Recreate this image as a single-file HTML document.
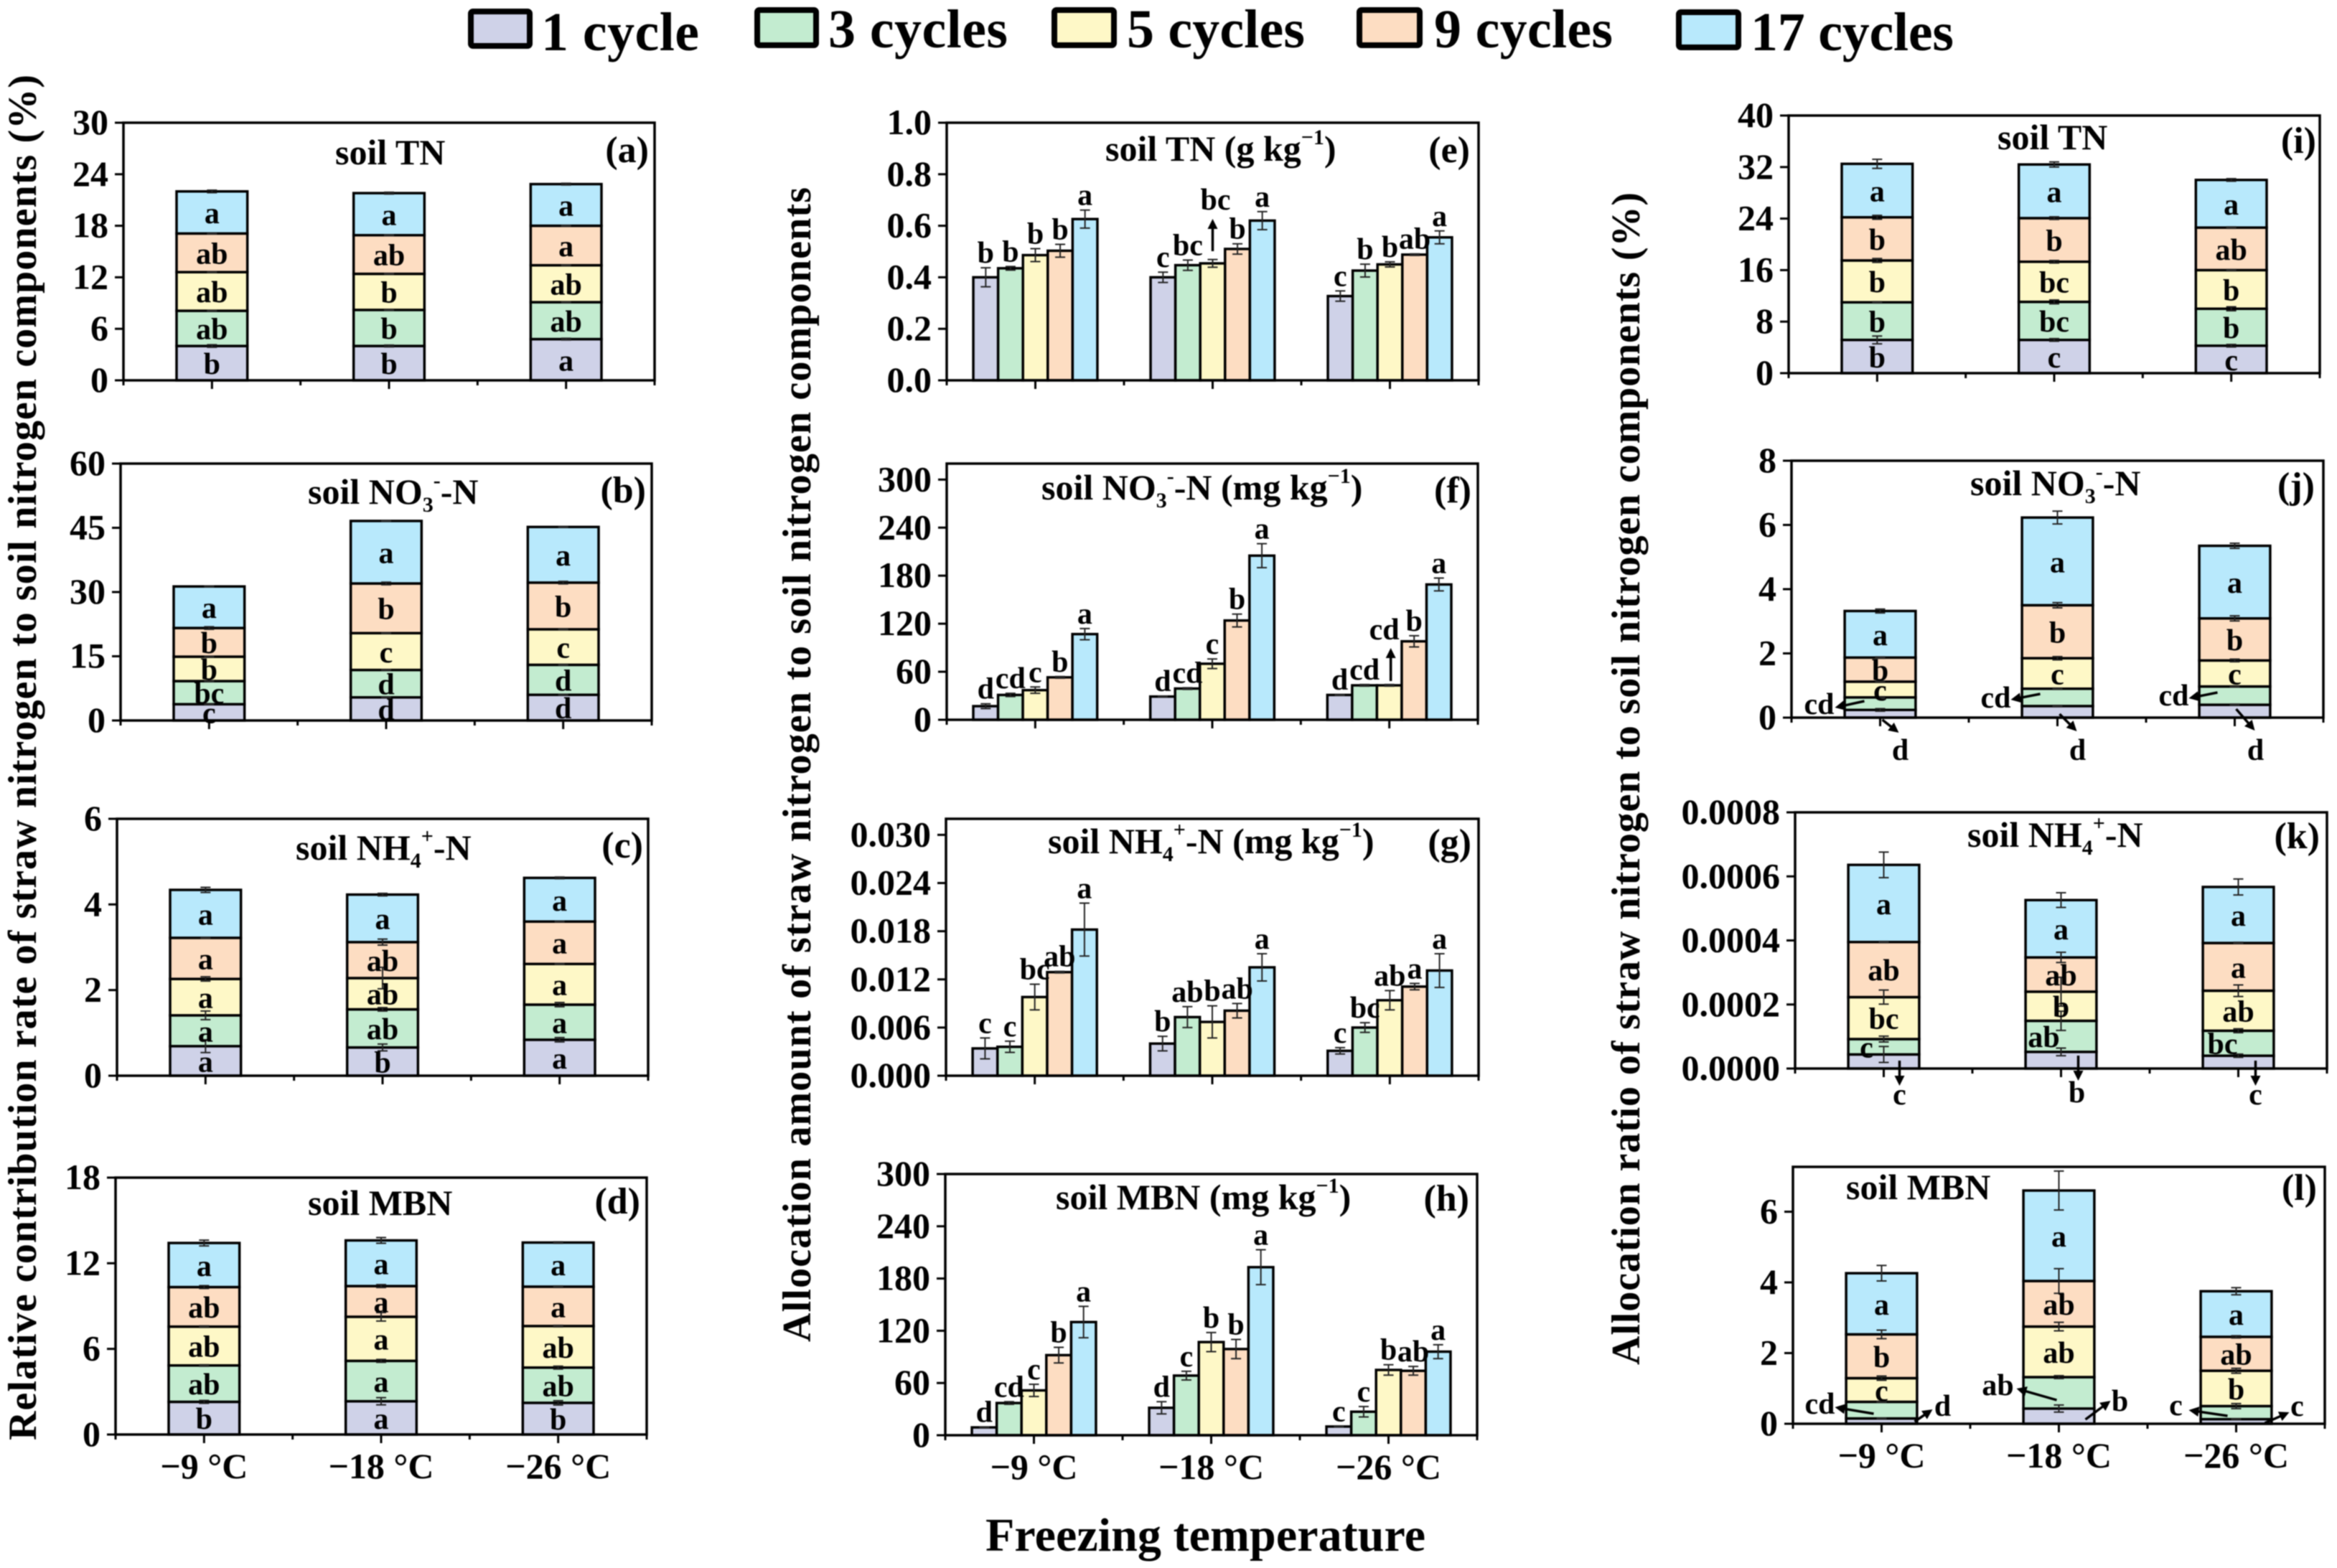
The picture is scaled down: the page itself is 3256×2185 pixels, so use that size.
<!DOCTYPE html>
<html lang="en">
<head>
<meta charset="utf-8">
<title>Straw nitrogen allocation under freeze-thaw cycles</title>
<style>
html,body{margin:0;padding:0;background:#fff;}
svg{display:block;font-family:"Liberation Serif",serif;font-weight:bold;fill:#000;filter:blur(0.7px);}
</style>
</head>
<body>
<svg id="figure" xmlns="http://www.w3.org/2000/svg" width="3256" height="2185" viewBox="0 0 3256 2185">
<rect x="0" y="0" width="3256" height="2185" fill="#fff"/>
<g>
<g><rect x="656" y="16" width="82" height="48" rx="3" fill="#CFD2E8" stroke="#000" stroke-width="8"/><text x="754" y="70" font-size="76" textLength="220">1 cycle</text></g>
<g><rect x="1055" y="14" width="82" height="49" rx="3" fill="#C3ECD0" stroke="#000" stroke-width="8"/><text x="1154" y="66" font-size="76" textLength="250">3 cycles</text></g>
<g><rect x="1469" y="14" width="83" height="49" rx="3" fill="#FEF8C7" stroke="#000" stroke-width="8"/><text x="1570" y="66" font-size="76" textLength="248">5 cycles</text></g>
<g><rect x="1894" y="14" width="84" height="49" rx="3" fill="#FDDDC2" stroke="#000" stroke-width="8"/><text x="1998" y="66" font-size="76" textLength="249">9 cycles</text></g>
<g><rect x="2339" y="17" width="83" height="49" rx="3" fill="#B8E9FC" stroke="#000" stroke-width="8"/><text x="2439" y="70" font-size="76" textLength="283">17 cycles</text></g>
</g>
<text transform="translate(50,2007) rotate(-90)" font-size="56" textLength="1903">Relative contribution rate of straw nitrogen to soil nitrogen components (%)</text>
<text transform="translate(1129,1870) rotate(-90)" font-size="56" textLength="1609">Allocation amount of straw nitrogen to soil nitrogen components</text>
<text transform="translate(2284,1902) rotate(-90)" font-size="56" textLength="1634">Allocation ratio of straw nitrogen to soil nitrogen components (%)</text>
<text x="1373" y="2161" font-size="66" textLength="613">Freezing temperature</text>
<g id="charts"></g>
</svg>
<script>
const categories = ['\u22129 \u00B0C', '\u221218 \u00B0C', '\u221226 \u00B0C'];
const seriesNames = ['1-cycle', '3-cycles', '5-cycles', '9-cycles', '17-cycles'];
const seriesColors = ['#CFD2E8', '#C3ECD0', '#FEF8C7', '#FDDDC2', '#B8E9FC'];

const ticksA = ['0', '6', '12', '18', '24', '30'];
const valuesA = [[4.0,4.0,4.8],[4.1,4.2,4.3],[4.5,4.2,4.3],[4.5,4.5,4.6],[4.9,4.9,4.85]];
const errorsA = [[.15,.1,.1],[.05,.05,.05],[.05,.05,.05],[.05,.05,.05],[.15,.1,.1]];
const lettersA = [['b','b','a'],['ab','b','ab'],['ab','b','ab'],['ab','ab','a'],['a','a','a']];

const ticksB = ['0', '15', '30', '45', '60'];
const valuesB = [[3.8,5.4,6.0],[5.4,6.4,7.0],[5.7,8.6,8.3],[6.7,11.6,10.9],[9.7,14.6,13.0]];
const errorsB = [[.1,.1,.1],[.1,.1,.1],[.1,.1,.1],[.3,.3,.3],[.1,.1,.1]];
const lettersB = [['c','d','d'],['bc','d','d'],['b','c','c'],['b','b','b'],['a','a','a']];

const ticksC = ['0', '2', '4', '6'];
const valuesC = [[.69,.66,.84],[.72,.89,.82],[.85,.73,.95],[.96,.84,.99],[1.12,1.11,1.02]];
const errorsC = [[.15,.08,.05],[.1,.04,.05],[.05,.25,.01],[.01,.07,.01],[.06,.03,.02]];
const lettersC = [['a','b','a'],['a','ab','a'],['a','ab','a'],['a','ab','a'],['a','a','a']];

const ticksD = ['0', '6', '12', '18'];
const valuesD = [[2.29,2.33,2.22],[2.55,2.83,2.47],[2.72,3.09,2.91],[2.77,2.15,2.76],[3.09,3.2,3.09]];
const errorsD = [[.1,.25,.15],[.05,.1,.1],[.05,.3,.05],[.1,.1,.05],[.2,.2,.05]];
const lettersD = [['b','a','b'],['ab','a','ab'],['ab','a','ab'],['ab','a','a'],['a','a','a']];

const ticksE = ['0.0', '0.2', '0.4', '0.6', '0.8', '1.0'];
const valuesE = [[.40,.40,.327],[.435,.447,.426],[.486,.454,.45],[.503,.51,.488],[.626,.62,.555]];
const errorsE = [[.037,.02,.02],[.007,.02,.025],[.025,.015,.01],[.025,.02,.003],[.035,.035,.025]];
const lettersE = [['b','c','c'],['b','bc','b'],['b','','b'],['b','b','ab'],['a','a','a']];

const ticksF = ['0', '60', '120', '180', '240', '300'];
const valuesF = [[17,29,31],[31,39,43],[37,70,43],[53,124,98],[107,205,169]];
const errorsF = [[3,.5,.5],[2,1,1],[4,6,1],[1,8,7],[7,15,8]];
const lettersF = [['d','d','d'],['cd','cd','cd'],['c','c',''],['b','b','b'],['a','a','a']];

const ticksG = ['0.000', '0.006', '0.012', '0.018', '0.024', '0.030'];
const valuesG = [[.0034,.004,.0031],[.0036,.0073,.006],[.0098,.0067,.0094],[.0129,.0081,.0111],[.0182,.0135,.0131]];
const errorsG = [[.0013,.0009,.0004],[.0007,.0013,.0006],[.0016,.002,.0012],[.0001,.0009,.0004],[.0033,.0017,.0021]];
const lettersG = [['c','b','c'],['c','ab','bc'],['bc','b','ab'],['ab','ab','a'],['a','a','a']];

const ticksH = ['0', '60', '120', '180', '240', '300'];
const valuesH = [[9,31.5,10],[37,68.5,27],[51.5,107,75],[92,99,74],[130,193,96]];
const errorsH = [[.5,7,.5],[1.5,5,6],[7,11,6],[9,11,5],[18,20,8]];
const lettersH = [['d','d','c'],['cd','c','c'],['c','b','b'],['b','b','ab'],['a','a','a']];

const ticksI = ['0', '8', '16', '24', '32', '40'];
const valuesI = [[5.16,5.16,4.26],[5.84,5.91,5.74],[6.5,6.23,6.0],[6.7,6.77,6.6],[8.3,8.33,7.4]];
const errorsI = [[.6,.2,.2],[.1,.3,.3],[.3,.2,.1],[.3,.2,.1],[.7,.4,.2]];
const lettersI = [['b','c','c'],['b','bc','b'],['b','bc','b'],['b','b','ab'],['a','a','a']];

const ticksJ = ['0', '2', '4', '6', '8'];
const valuesJ = [[.24,.36,.4],[.39,.54,.57],[.49,.95,.81],[.75,1.65,1.31],[1.45,2.73,2.26]];
const errorsJ = [[.04,.02,.02],[.02,.02,.02],[.02,.05,.04],[.02,.08,.08],[.06,.2,.08]];
const lettersJ = [['','',''],['','',''],['c','c','c'],['b','b','b'],['a','a','a']];

const ticksK = ['0.0000', '0.0002', '0.0004', '0.0006', '0.0008'];
const valuesK = [[.000044,.000052,.00004],[.000048,.000097,.000078],[.000131,.000091,.000125],[.000172,.000107,.000149],[.000241,.000179,.000175]];
const errorsK = [[.000025,.000012,.000005],[.000009,.00003,.000006],[.000022,.000045,.000018],[.000002,.000016,.000002],[.00004,.000023,.000025]];
const lettersK = [['','',''],['c','ab','bc'],['bc','b','ab'],['ab','ab','a'],['a','a','a']];

const ticksL = ['0', '2', '4', '6'];
const valuesL = [[.15,.43,.13],[.47,.89,.37],[.67,1.43,1.0],[1.24,1.29,.96],[1.73,2.56,1.29]];
const errorsL = [[.01,.1,.01],[.01,.04,.07],[.06,.12,.07],[.12,.35,.03],[.22,.55,.1]];
const lettersL = [['','',''],['','',''],['c','ab','b'],['b','ab','ab'],['a','a','a']];

const SVGNS = 'http://www.w3.org/2000/svg';
const root = document.getElementById('charts');

function make(parent, tag, attrs, text) {
  const el = document.createElementNS(SVGNS, tag);
  for (const k in attrs) el.setAttribute(k, attrs[k]);
  if (text !== undefined) el.textContent = text;
  parent.appendChild(el);
  return el;
}

function drawTitle(g, p) {
  const t = make(g, 'text', {x: p.titleX, y: p.titleY, 'font-size': 50});
  
  
  let shift = 0;
  p.title.forEach(function (part) {
    const kind = part[1];
    const target = kind === 'sub' ? 11 : kind === 'sup' ? -23 : 0;
    const attrs = {dy: target - shift};
    if (kind) attrs['font-size'] = 30;
    make(t, 'tspan', attrs, part[0]);
    shift = target;
  });
}

function drawPanel(p) {
  const g = make(root, 'g', {});
  
  
  const band = (p.x1 - p.x0) / categories.length;
  p.band = band;
  const xc = function (i) { return p.x0 + (i + 0.5) * band; };
  const y = function (v) { return p.y1 - (v / p.ymax) * (p.y1 - p.y0); };
  p.xc = xc;

  p.ticks.forEach(function (label) {
    const ty = y(parseFloat(label));
    const tick = make(g, 'line', {x1: p.x0 - 12, x2: p.x0, y1: ty, y2: ty, stroke: '#000', 'stroke-width': 3});
    
    
    const tl = make(g, 'text', {x: p.x0 - 21, y: ty + 16, 'font-size': 50, 'text-anchor': 'end'}, label);
    
    
  });

  for (let i = 0; i <= categories.length; i++) {
    const mx = p.x0 + i * band;
    const minor = make(g, 'line', {x1: mx, x2: mx, y1: p.y1, y2: p.y1 + 7, stroke: '#000', 'stroke-width': 3});
    
    
  }
  categories.forEach(function (c, i) {
    const major = make(g, 'line', {x1: xc(i), x2: xc(i), y1: p.y1, y2: p.y1 + 12, stroke: '#000', 'stroke-width': 3});
    
    
    if (p.showX) {
      const xl = make(g, 'text', {x: xc(i), y: p.y1 + 61, 'font-size': 50, 'text-anchor': 'middle'}, c);
      
      
    }
  });

  const errs = [];
  const labels = [];
  categories.forEach(function (c, i) {
    let sum = 0;
    seriesNames.forEach(function (name, s) {
      const v = p.values[s][i];
      const e = p.errors[s][i];
      let rx, rw, top, bottom;
      if (p.kind === 'stack') {
        rw = band * 0.4;
        rx = xc(i) - rw / 2;
        bottom = y(sum);
        sum += v;
        top = y(sum);
        errs.push({x: xc(i), hi: y(sum + e), lo: y(sum - e)});
        if (p.letters[s][i]) {
          const nudge = (p.nudges && p.nudges[s + ',' + i]) || 0;
          labels.push({x: xc(i) + nudge, y: (top + bottom) / 2 + 15, text: p.letters[s][i]});
        }
      } else {
        rw = band * 0.14;
        rx = xc(i) - 2.5 * rw + s * rw;
        bottom = y(0);
        top = y(v);
        errs.push({x: rx + rw / 2, hi: y(v + e), lo: y(v - e)});
        if (p.letters[s][i]) {
          labels.push({x: rx + rw / 2, y: y(v + e) - 7, text: p.letters[s][i]});
        }
      }
      const bar = make(g, 'rect', {x: rx, y: top, width: rw, height: bottom - top, fill: seriesColors[s], stroke: '#000', 'stroke-width': 3.5});
      
      
    });
  });

  errs.forEach(function (e) {
    const d = 'M' + e.x + ' ' + e.hi + 'V' + e.lo + 'M' + (e.x - 7) + ' ' + e.hi + 'h14M' + (e.x - 7) + ' ' + e.lo + 'h14';
    const eb = make(g, 'path', {d: d, fill: 'none', stroke: '#222', 'stroke-width': 2});
    
    
  });
  labels.forEach(function (l) {
    const sig = make(g, 'text', {x: l.x, y: l.y, 'font-size': 42, 'text-anchor': 'middle'}, l.text);
    
    
  });

  const frame = make(g, 'rect', {x: p.x0, y: p.y0, width: p.x1 - p.x0, height: p.y1 - p.y0, fill: 'none', stroke: '#000', 'stroke-width': 3.5});
  
  

  drawTitle(g, p);
  const tag = make(g, 'text', {x: p.tagX, y: p.tagY, 'font-size': 52, 'text-anchor': 'end'}, '(' + p.id + ')');
  
  
}

function callout(p, group, ax, ay, bx, by, text, tx, ty) {
  const cx = p.xc(group);
  const x1 = cx + ax, y1 = p.y1 + ay, x2 = cx + bx, y2 = p.y1 + by;
  const len = Math.hypot(x2 - x1, y2 - y1);
  const ux = (x2 - x1) / len, uy = (y2 - y1) / len;
  const line = make(root, 'line', {x1: x1, y1: y1, x2: x2 - ux * 8, y2: y2 - uy * 8, stroke: '#000', 'stroke-width': 3.5});
  
  
  const pts = [[x2, y2], [x2 - ux * 14 - uy * 7, y2 - uy * 14 + ux * 7], [x2 - ux * 14 + uy * 7, y2 - uy * 14 - ux * 7]];
  const head = make(root, 'polygon', {points: pts.map(function (q) { return q.join(','); }).join(' '), fill: '#000'});
  
  
  const label = make(root, 'text', {x: cx + tx, y: p.y1 + ty, 'font-size': 42, 'text-anchor': 'middle'}, text);
  
  
}

const NO3 = [['NO'], ['3', 'sub'], ['-', 'sup'], ['-N']];
const NH4 = [['NH'], ['4', 'sub'], ['+', 'sup'], ['-N']];
const unitMg = [[' (mg kg'], ['\u22121', 'sup'], [')']];
const panels = {
  a: {id:'a', kind:'stack', x0:172, x1:912, y0:171, y1:530, ymax:30, ticks:ticksA, values:valuesA, errors:errorsA, letters:lettersA, title:[['soil TN']], titleX:467, titleY:229, tagX:904, tagY:226},
  b: {id:'b', kind:'stack', x0:168, x1:908, y0:646, y1:1004, ymax:60, ticks:ticksB, values:valuesB, errors:errorsB, letters:lettersB, title:[['soil ']].concat(NO3), titleX:429, titleY:702, tagX:900, tagY:700},
  c: {id:'c', kind:'stack', x0:163, x1:903, y0:1141, y1:1499, ymax:6, ticks:ticksC, values:valuesC, errors:errorsC, letters:lettersC, title:[['soil ']].concat(NH4), titleX:412, titleY:1198, tagX:896, tagY:1195},
  d: {id:'d', kind:'stack', x0:161, x1:901, y0:1641, y1:1999, ymax:18, ticks:ticksD, values:valuesD, errors:errorsD, letters:lettersD, title:[['soil MBN']], titleX:429, titleY:1693, tagX:892, tagY:1691, showX:true},
  e: {id:'e', kind:'group', x0:1319, x1:2060, y0:171, y1:530, ymax:1, ticks:ticksE, values:valuesE, errors:errorsE, letters:lettersE, title:[['soil TN (g kg'], ['\u22121', 'sup'], [')']], titleX:1540, titleY:224, tagX:2048, tagY:226},
  f: {id:'f', kind:'group', x0:1319, x1:2059, y0:646, y1:1003, ymax:320, ticks:ticksF, values:valuesF, errors:errorsF, letters:lettersF, title:[['soil ']].concat(NO3, unitMg), titleX:1451, titleY:696, tagX:2050, tagY:700},
  g: {id:'g', kind:'group', x0:1318, x1:2060, y0:1141, y1:1499, ymax:0.032, ticks:ticksG, values:valuesG, errors:errorsG, letters:lettersG, title:[['soil ']].concat(NH4, unitMg), titleX:1460, titleY:1189, tagX:2050, tagY:1191},
  h: {id:'h', kind:'group', x0:1317, x1:2058, y0:1636, y1:2000, ymax:300, ticks:ticksH, values:valuesH, errors:errorsH, letters:lettersH, title:[['soil MBN']].concat(unitMg), titleX:1471, titleY:1685, tagX:2047, tagY:1687, showX:true},
  i: {id:'i', kind:'stack', x0:2492, x1:3232, y0:161, y1:520, ymax:40, ticks:ticksI, values:valuesI, errors:errorsI, letters:lettersI, title:[['soil TN']], titleX:2783, titleY:208, tagX:3227, tagY:213},
  j: {id:'j', kind:'stack', x0:2496, x1:3237, y0:642, y1:1000, ymax:8, ticks:ticksJ, values:valuesJ, errors:errorsJ, letters:lettersJ, title:[['soil ']].concat(NO3), titleX:2745, titleY:690, tagX:3225, tagY:694},
  k: {id:'k', kind:'stack', x0:2501, x1:3242, y0:1132, y1:1489, ymax:0.0008, ticks:ticksK, values:valuesK, errors:errorsK, letters:lettersK, title:[['soil ']].concat(NH4), titleX:2741, titleY:1180, tagX:3232, tagY:1182, nudges:{'1,0':-24, '1,1':-24, '1,2':-22}},
  l: {id:'l', kind:'stack', x0:2498, x1:3239, y0:1626, y1:1984, ymax:7.27, ticks:ticksL, values:valuesL, errors:errorsL, letters:lettersL, title:[['soil MBN']], titleX:2572, titleY:1671, tagX:3228, tagY:1672, showX:true}
};
Object.keys(panels).forEach(function (k) { drawPanel(panels[k]); });

callout(panels.e, 1, 0, -180, 0, -225, 'bc', 4, -238);
callout(panels.f, 2, 2, -54, 2, -100, 'cd', -7, -112);

callout(panels.j, 0, -22, -23, -63, -14, 'cd', -85, -5);
callout(panels.j, 0, 3, 3, 26, 21, 'd', 28, 59);
callout(panels.j, 1, -24, -33, -65, -25, 'cd', -86, -14);
callout(panels.j, 1, 3, -5, 27, 19, 'd', 28, 59);
callout(panels.j, 2, -24, -35, -64, -27, 'cd', -85, -17);
callout(panels.j, 2, 2, -12, 28, 18, 'd', 29, 59);

callout(panels.k, 0, 22, -11, 22, 24, 'c', 22, 50);
callout(panels.k, 1, 24, -18, 24, 17, 'b', 22, 47);
callout(panels.k, 2, 24, -11, 24, 24, 'c', 24, 50);

callout(panels.l, 0, -11, -14, -65, -23, 'cd', -86, -14);
callout(panels.l, 0, 46, -3, 71, -20, 'd', 85, -11);
callout(panels.l, 1, -3, -33, -59, -49, 'ab', -85, -40);
callout(panels.l, 1, 37, -6, 72, -32, 'b', 85, -18);
callout(panels.l, 2, -12, -11, -66, -19, 'c', -84, -12);
callout(panels.l, 2, 40, -1, 74, -16, 'c', 85, -11);
</script>
</body>
</html>
